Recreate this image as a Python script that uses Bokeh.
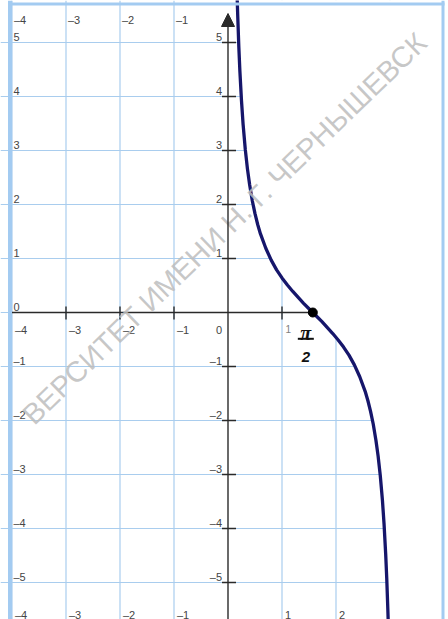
from bokeh.plotting import figure
from bokeh.models import Range1d, Arrow, NormalHead
from bokeh.core.properties import value
from bokeh.embed import file_html
from bokeh.resources import INLINE

# ---- data ----
curve_x = [0.17, 0.18, 0.20, 0.22, 0.25, 0.28, 0.32, 0.36, 0.40, 0.45, 0.50, 0.55,
           0.60, 0.70, 0.80, 0.90, 1.00, 1.10, 1.20, 1.30, 1.40, 1.50, 1.5708,
           1.64, 1.74, 1.84, 1.94, 2.04, 2.14, 2.24, 2.34, 2.44, 2.54, 2.59,
           2.64, 2.69, 2.74, 2.78, 2.82, 2.86, 2.89, 2.92, 2.94, 2.96, 2.97]
curve_y = [5.82, 5.50, 4.93, 4.47, 3.92, 3.48, 3.02, 2.66, 2.37, 2.07, 1.83, 1.63,
           1.46, 1.19, 0.97, 0.79, 0.64, 0.51, 0.39, 0.28, 0.17, 0.07, 0.0,
           -0.07, -0.17, -0.28, -0.39, -0.51, -0.64, -0.79, -0.97, -1.19, -1.46, -1.63,
           -1.83, -2.07, -2.37, -2.66, -3.02, -3.48, -3.92, -4.47, -4.93, -5.50, -5.82]
point_x = [1.5708]
point_y = [0.0]

grid_x = [-4, -3, -2, -1, 1, 2, 3]
grid_y = [-5, -4, -3, -2, -1, 0, 1, 2, 3, 4, 5]

top_x = [-4, -3, -2, -1]
top_text = ["–4", "–3", "–2", "–1"]
bottom_x = [-4, -3, -2, -1, 1, 2]
bottom_text = ["–4", "–3", "–2", "–1", "1", "2"]
left_y = [5, 4, 3, 2, 1, 0, -1, -2, -3, -4, -5]
left_text = ["5", "4", "3", "2", "1", "0", "–1", "–2", "–3", "–4", "–5"]
yaxis_y = [5, 4, 3, 2, 1, -1, -2, -3, -4, -5]
yaxis_text = ["5", "4", "3", "2", "1", "–1", "–2", "–3", "–4", "–5"]
xaxis_x = [-4, -3, -2, -1]
xaxis_text = ["–4", "–3", "–2", "–1"]
xaxis_small_x = [1]
xaxis_small_text = ["1"]
x_ticks = [-3, -2, -1, 1, 2, 3]
y_ticks = [-5, -4, -3, -2, -1, 1, 2, 3, 4, 5]
watermark = "ВЕРСИТЕТ ИМЕНИ Н. Г. ЧЕРНЫШЕВСК"

# ---- layout constants ----
PXU = 54.0
W, H = 448, 619
X0 = -227.5 / PXU
X1 = X0 + W / PXU
Y1 = 312.0 / PXU
Y0 = Y1 - H / PXU


def px(n):
    return n / PXU


FONT = value("Liberation Sans")
LBL = "#454545"
GRID = "#a9cdee"

p = figure(width=W, height=H, x_range=Range1d(X0, X1), y_range=Range1d(Y0, Y1),
           output_backend="svg", toolbar_location=None, min_border=0,
           x_axis_location=None, y_axis_location=None)
p.grid.visible = False
p.outline_line_color = None
p.background_fill_color = "white"

# grid
p.segment(x0=grid_x, y0=[Y0] * len(grid_x), x1=grid_x, y1=[Y1] * len(grid_x),
          line_color=GRID, line_width=1.2)
p.segment(x0=[X0] * len(grid_y), y0=grid_y, x1=[X1] * len(grid_y), y1=grid_y,
          line_color=GRID, line_width=1.2)


def labels(xs, ys, texts, align="left", size="11px", color=LBL):
    p.text(x=xs, y=ys, text=texts, text_align=align, text_baseline="alphabetic",
           text_font=FONT, text_font_size=size, text_color=color)


labels([v + px(2) for v in top_x], [Y1 - px(19)] * len(top_x), top_text)
labels([v + px(3) for v in bottom_x], [Y1 - px(614)] * len(bottom_x), bottom_text)
labels([X0 + px(13)] * len(left_y), [v + px(6) for v in left_y], left_text)
labels([-px(6)] * len(yaxis_y), [v + px(6) for v in yaxis_y], yaxis_text, align="right")
labels([v + px(3) for v in xaxis_x], [-px(17)] * len(xaxis_x), xaxis_text)
labels([-px(6)], [-px(17)], ["0"], align="right")
labels([v + px(3.5) for v in xaxis_small_x], [-px(16.5)] * len(xaxis_small_x),
       xaxis_small_text, size="10px", color="#808080")

# axes
AX = "#2a2a2a"
p.segment(x0=[-4], y0=[0], x1=[X1], y1=[0], line_color=AX, line_width=1.4)
p.segment(x0=x_ticks, y0=[-px(7)] * len(x_ticks), x1=x_ticks, y1=[px(6)] * len(x_ticks),
          line_color=AX, line_width=1.4)
p.segment(x0=[-px(6)] * len(y_ticks), y0=y_ticks, x1=[px(8)] * len(y_ticks), y1=y_ticks,
          line_color=AX, line_width=1.4)
p.add_layout(Arrow(end=NormalHead(size=13, fill_color=AX, line_color=AX),
                   x_start=0, y_start=Y0, x_end=0, y_end=Y1 - px(13),
                   line_color=AX, line_width=1.4))

# white area to the right of the curve
p.patch(x=curve_x + [X1, X1], y=curve_y + [curve_y[-1], curve_y[0]],
        fill_color="white", line_color=None)

# curve and point
p.line(curve_x, curve_y, line_color="#16166b", line_width=3.3, line_join="round")
p.scatter(point_x, point_y, size=9, fill_color="black", line_color="black")

# pi/2 label
cx = point_x[0] - px(7)
p.text(x=[cx], y=[-px(20)], text=["π"], text_align="center", text_baseline="alphabetic",
       text_font=value("Liberation Serif"), text_font_size="20px",
       text_font_style="bold italic", text_color="#111111")
p.segment(x0=[cx - px(8)], y0=[-px(26.3)], x1=[cx + px(8)], y1=[-px(26.3)],
          line_color="#111111", line_width=2)
p.text(x=[cx], y=[-px(44)], text=["2"], text_align="center", text_baseline="alphabetic",
       text_font=FONT, text_font_size="15px", text_font_style="bold italic",
       text_color="#111111")

# watermark
p.text(x=[px(224 - 227.5)], y=[px(312 - 228)], text=[watermark], angle=44,
       angle_units="deg", text_align="center", text_baseline="middle",
       text_font=FONT, text_font_size="29px", text_color="#bdbdbd", text_alpha=0.85)

# borders
BORDER = "#a3cbf1"
p.segment(x0=[px(9.5 - 227.5)], y0=[Y0], x1=[px(9.5 - 227.5)], y1=[Y1],
          line_color=BORDER, line_width=4)
p.segment(x0=[px(442.5 - 227.5)], y0=[Y0], x1=[px(442.5 - 227.5)], y1=[Y1],
          line_color=BORDER, line_width=3)
p.segment(x0=[px(9.5 - 227.5)], y0=[Y1 - px(3.5)], x1=[px(444 - 227.5)], y1=[Y1 - px(3.5)],
          line_color=BORDER, line_width=3)

open("out.html", "w").write(file_html(p, INLINE))
